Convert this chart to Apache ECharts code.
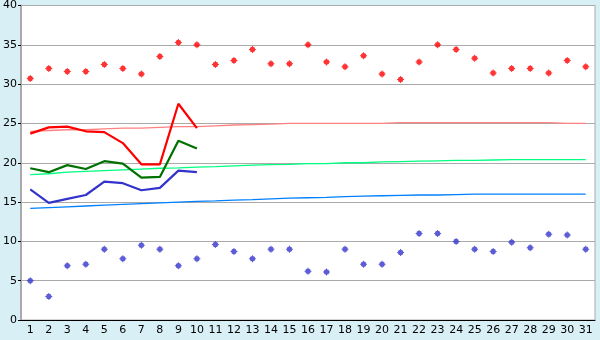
<!DOCTYPE html>
<html>
<head>
<meta charset="utf-8">
<script src="https://cdn.jsdelivr.net/npm/echarts@6/dist/echarts.min.js"></script>
<style>
  html, body { margin: 0; padding: 0; background: #d9eff6; }
  #chart { width: 600px; height: 340px; }
</style>
</head>
<body>
<div id="chart"></div>
<script>
var days = [];
for (var d = 1; d <= 31; d++) days.push(String(d));

// record highs / lows (points)
var recordHigh = [30.7, 32.0, 31.6, 31.6, 32.5, 32.0, 31.3, 33.5, 35.3, 35.0,
                  32.5, 33.0, 34.4, 32.6, 32.6, 35.0, 32.8, 32.2, 33.6, 31.3,
                  30.6, 32.8, 35.0, 34.4, 33.3, 31.4, 32.0, 32.0, 31.4, 33.0, 32.2];
var recordLow = [5.0, 3.0, 6.9, 7.1, 9.0, 7.8, 9.5, 9.0, 6.9, 7.8,
                 9.6, 8.7, 7.8, 9.0, 9.0, 6.2, 6.1, 9.0, 7.1, 7.1,
                 8.6, 11.0, 11.0, 10.0, 9.0, 8.7, 9.9, 9.2, 10.9, 10.8, 9.0];

// this month's values (first 10 days)
var dayMax = [23.7, 24.5, 24.6, 24.0, 23.9, 22.5, 19.8, 19.8, 27.5, 24.4];
var dayMean = [19.3, 18.8, 19.7, 19.2, 20.2, 19.9, 18.1, 18.2, 22.8, 21.8];
var dayMin = [16.6, 14.9, 15.4, 15.9, 17.6, 17.4, 16.5, 16.8, 19.0, 18.8];

// normals (thin lines)
var normalMax = [24.0, 24.1, 24.2, 24.2, 24.3, 24.4, 24.4, 24.5, 24.6, 24.6,
                 24.7, 24.8, 24.85, 24.9, 25.0, 25.0, 25.0, 25.0, 25.0, 25.0,
                 25.1, 25.1, 25.1, 25.1, 25.1, 25.1, 25.1, 25.1, 25.1, 25.0, 25.0];
var normalMean = [18.5, 18.6, 18.8, 18.9, 19.0, 19.1, 19.2, 19.3, 19.35, 19.45,
                  19.5, 19.6, 19.7, 19.75, 19.8, 19.9, 19.9, 20.0, 20.0, 20.1,
                  20.15, 20.2, 20.25, 20.3, 20.3, 20.35, 20.4, 20.4, 20.4, 20.4, 20.4];
var normalMin = [14.2, 14.3, 14.4, 14.5, 14.6, 14.7, 14.8, 14.9, 15.0, 15.1,
                 15.15, 15.25, 15.3, 15.4, 15.5, 15.55, 15.6, 15.7, 15.75, 15.8,
                 15.85, 15.9, 15.9, 15.95, 16.0, 16.0, 16.0, 16.0, 16.0, 16.0, 16.0];

var chartDom = document.getElementById('chart');
var myChart = echarts.init(chartDom);
var option;

// small round marker with four little tips
var markPath = 'path://M3,0 L4,0 L4,1 L5,1 L6,2 L6,3 L7,3 L7,4 L6,4 L6,5 L5,6 L4,6 L4,7 L3,7 L3,6 L2,6 L1,5 L1,4 L0,4 L0,3 L1,3 L1,2 L2,1 L3,1 Z';

function thin(name, data, color) {
    return {
        name: name, type: 'line', data: data, symbol: 'none', z: 2,
        lineStyle: {color: color, width: 1.3}
    };
}
function thick(name, data, color) {
    return {
        name: name, type: 'line', data: data, symbol: 'none', z: 3,
        lineStyle: {color: color, width: 2.2}
    };
}
function dots(name, data, color) {
    return {
        name: name, type: 'scatter', data: data, symbol: markPath, symbolSize: 7, z: 4,
        itemStyle: {color: color}
    };
}

option = {
    backgroundColor: '#d9eff6',
    animation: false,
    textStyle: {fontFamily: 'DejaVu Sans'},
    grid: {
        left: 20, right: 5, top: 5, bottom: 20,
        show: true, backgroundColor: '#ffffff', borderColor: '#aaaaaa', borderWidth: 1
    },
    xAxis: {
        type: 'category',
        data: days,
        boundaryGap: true,
        axisLine: {lineStyle: {color: '#000000', width: 1}},
        axisTick: {alignWithLabel: true, length: 5, lineStyle: {color: '#000000'}},
        axisLabel: {color: '#000000', fontSize: 11, margin: 5, interval: 0}
    },
    yAxis: {
        type: 'value',
        min: 0, max: 40, interval: 5,
        axisLine: {show: true, lineStyle: {color: '#aaaaaa', width: 2}},
        axisTick: {show: true, length: 3, lineStyle: {color: '#000000'}},
        axisLabel: {color: '#000000', fontSize: 11, margin: 4},
        splitLine: {lineStyle: {color: '#aaaaaa', width: 1}}
    },
    series: [
        thin('平年最高', normalMax, '#ff8080'),
        thin('平年平均', normalMean, '#00ff80'),
        thin('平年最低', normalMin, '#0080ff'),
        thick('最高', dayMax, '#ff0000'),
        thick('平均', dayMean, '#007000'),
        thick('最低', dayMin, '#3333cc'),
        dots('最高記録', recordHigh, '#ff0000'),
        dots('最低記録', recordLow, '#3333cc')
    ]
};

option && myChart.setOption(option);
</script>
</body>
</html>
